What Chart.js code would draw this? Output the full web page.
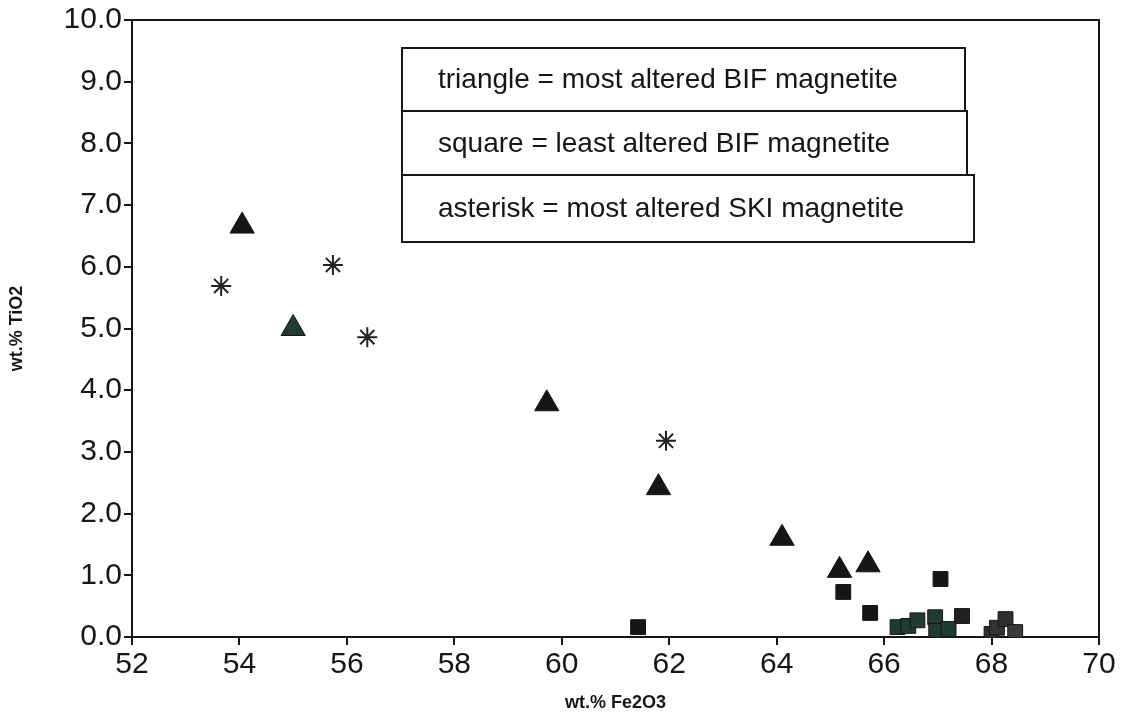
<!DOCTYPE html>
<html>
<head>
<meta charset="utf-8">
<script src="https://cdn.jsdelivr.net/npm/chart.js@4/dist/chart.umd.min.js"></script>
<style>
  html, body { margin: 0; padding: 0; background: #ffffff; }
  #wrap { width: 1129px; height: 719px; }
</style>
</head>
<body>
<div id="wrap"><canvas id="chart" width="1129" height="719"></canvas></div>
<script>
// triangle = most altered BIF magnetite
var triangleX = [54.05, 55.0, 59.72, 61.8, 64.1, 65.17, 65.7];
var triangleY = [6.66, 5.0, 3.78, 2.42, 1.6, 1.08, 1.17];

// square = least altered BIF magnetite
var squareX = [61.42, 65.24, 65.74, 67.05, 66.25, 66.45, 66.62, 66.95, 66.97, 67.2, 67.45, 68.0, 68.1, 68.26, 68.44];
var squareY = [0.16, 0.73, 0.39, 0.94, 0.16, 0.18, 0.27, 0.32, 0.1, 0.13, 0.34, 0.05, 0.15, 0.29, 0.08];

// asterisk = most altered SKI magnetite
var asteriskX = [53.66, 55.74, 56.38, 61.94];
var asteriskY = [5.69, 6.03, 4.86, 3.18];

var legendLabels = [
    'triangle = most altered BIF magnetite',
    'square = least altered BIF magnetite',
    'asterisk = most altered SKI magnetite'
];

function toPoints(xs, ys) {
    var out = [];
    for (var i = 0; i < xs.length; i++) out.push({ x: xs[i], y: ys[i] });
    return out;
}

var ink = '#161616';
var green = '#1f3b33';
var triColors = [ink, green, ink, ink, ink, ink, ink];
var sqColors = [ink, ink, ink, ink, green, green, green, green, green, green, '#222', '#2e2e2e', '#333', '#2e2e2e', '#3a3a3a'];

// legend boxes and plot frame
var boxPlugin = {
    id: 'boxes',
    afterDraw: function (chart) {
        var ctx = chart.ctx;
        var a = chart.chartArea;
        ctx.save();
        ctx.strokeStyle = ink;
        ctx.lineWidth = 2;
        ctx.beginPath();
        ctx.moveTo(a.left, a.top);
        ctx.lineTo(a.right, a.top);
        ctx.lineTo(a.right, a.bottom);
        ctx.stroke();

        var boxes = [
            [402, 48, 965, 111],
            [402, 111, 967, 175],
            [402, 175, 974, 242]
        ];
        ctx.font = '28px "Liberation Sans", Arial, sans-serif';
        ctx.fillStyle = ink;
        ctx.textBaseline = 'middle';
        for (var i = 0; i < boxes.length; i++) {
            var b = boxes[i];
            ctx.strokeRect(b[0], b[1], b[2] - b[0], b[3] - b[1]);
            ctx.fillText(legendLabels[i], 438, (b[1] + b[3]) / 2 + 1);
        }
        ctx.restore();
    }
};

var tickFont = { family: '"Liberation Sans", Arial, sans-serif', size: 30 };
var titleFont = { family: '"Liberation Sans", Arial, sans-serif', size: 18, weight: 'bold' };

var chart = new Chart(document.getElementById('chart').getContext('2d'), {
    type: 'scatter',
    data: {
        datasets: [{
            label: 'triangle',
            data: toPoints(triangleX, triangleY),
            pointStyle: 'triangle',
            pointRadius: 14,
            backgroundColor: triColors,
            borderColor: ink,
            borderWidth: 1
        }, {
            label: 'square',
            data: toPoints(squareX, squareY),
            pointStyle: 'rect',
            pointRadius: 10.5,
            backgroundColor: sqColors,
            borderColor: ink,
            borderWidth: 1
        }, {
            label: 'asterisk',
            data: toPoints(asteriskX, asteriskY),
            pointStyle: 'star',
            pointRadius: 10,
            backgroundColor: ink,
            borderColor: '#222',
            borderWidth: 2
        }]
    },
    options: {
        responsive: false,
        animation: false,
        layout: { padding: { top: 20, right: 30, left: 0, bottom: 0 } },
        plugins: {
            legend: { display: false },
            tooltip: { enabled: false }
        },
        scales: {
            x: {
                type: 'linear',
                min: 52,
                max: 70,
                afterFit: function (s) { s.height = 82; },
                grid: { drawOnChartArea: false, drawTicks: true, tickLength: 8, color: ink, lineWidth: 2 },
                border: { display: true, color: ink, width: 2 },
                ticks: { stepSize: 2, font: tickFont, color: ink, padding: 2, maxRotation: 0 },
                title: { display: true, text: 'wt.% Fe2O3', font: titleFont, color: ink, padding: { top: 2, bottom: 5 } }
            },
            y: {
                type: 'linear',
                min: 0,
                max: 10,
                afterFit: function (s) { s.width = 132; },
                grid: { drawOnChartArea: false, drawTicks: true, tickLength: 8, color: ink, lineWidth: 2 },
                border: { display: true, color: ink, width: 2 },
                ticks: {
                    stepSize: 1,
                    font: tickFont,
                    color: ink,
                    padding: 2,
                    callback: function (v) { return v.toFixed(1); }
                },
                title: { display: true, text: 'wt.% TiO2', font: titleFont, color: ink, padding: { top: 6, bottom: 4 } }
            }
        }
    },
    plugins: [boxPlugin]
});
</script>
</body>
</html>
